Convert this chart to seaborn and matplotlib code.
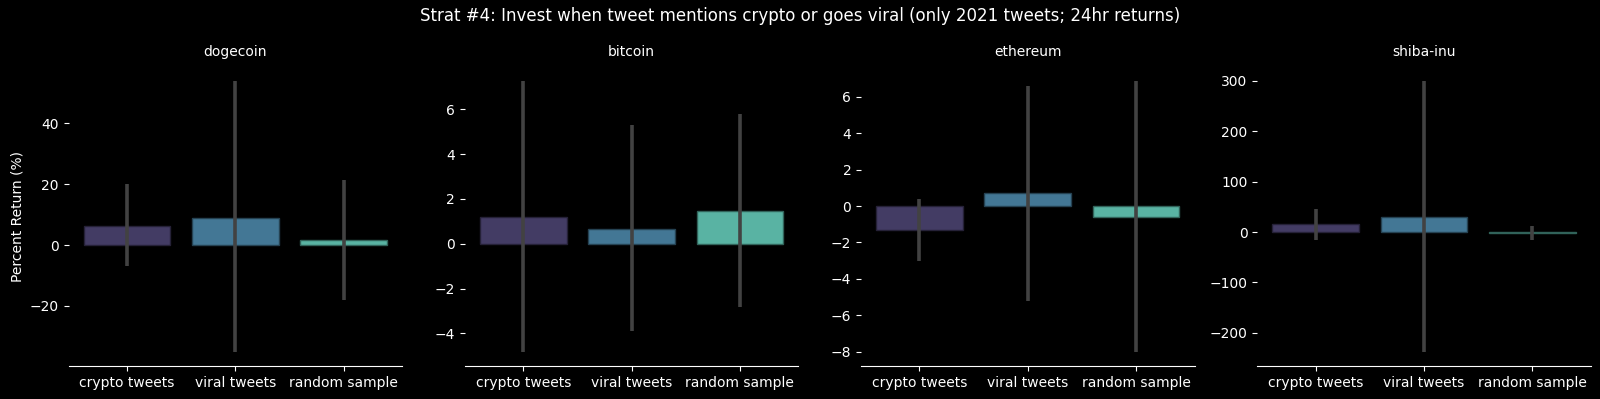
import matplotlib
matplotlib.use("Agg")
import matplotlib.pyplot as plt
import seaborn as sns
import pandas as pd
import numpy as np

coins = ["dogecoin", "bitcoin", "ethereum", "shiba-inu"]
groups = ["crypto tweets", "viral tweets", "random sample"]

mean_returns = {
    "dogecoin": [6.4, 8.9, 1.8],
    "bitcoin": [1.19, 0.68, 1.47],
    "ethereum": [-1.32, 0.70, -0.59],
    "shiba-inu": [15.2, 30.4, -1.5],
}
ci_low = {
    "dogecoin": [-7.0, -35.3, -18.2],
    "bitcoin": [-4.85, -3.91, -2.83],
    "ethereum": [-3.02, -5.19, -8.03],
    "shiba-inu": [-15.9, -238.6, -15.9],
}
ci_high = {
    "dogecoin": [20.2, 54.1, 21.3],
    "bitcoin": [7.28, 5.30, 5.79],
    "ethereum": [0.37, 6.57, 6.88],
    "shiba-inu": [44.9, 300.0, 11.9],
}

plt.style.use("dark_background")
palette = sns.color_palette("mako", 3)

fig, axes = plt.subplots(1, 4, figsize=(16, 3.99), dpi=100)
fig.subplots_adjust(left=0.0429, right=0.9942, top=0.832, bottom=0.0827, wspace=0.188)

for ax, coin in zip(axes, coins):
    df = pd.DataFrame({"group": groups, "ret": mean_returns[coin]})
    sns.barplot(data=df, x="group", y="ret", hue="group", palette=palette,
                errorbar=None, saturation=0.75, legend=False, ax=ax,
                edgecolor=None)
    for p, c in zip(ax.patches, palette):
        fc = np.array(sns.desaturate(c, 0.75))
        p.set_edgecolor(tuple(fc * 0.55))
        p.set_linewidth(1.0)
    xs = np.arange(len(groups))
    ax.vlines(xs, ci_low[coin], ci_high[coin], color="#424242", linewidth=2.6, zorder=3)
    ax.autoscale_view()
    ax.set_title(coin, fontsize=10, color="white", pad=8)
    ax.set_xlabel("")
    ax.set_ylabel("")
    sns.despine(ax=ax, left=True)
    ax.tick_params(colors="white", labelsize=10)
    ax.spines["bottom"].set_color("white")

axes[0].set_ylabel("Percent Return (%)", fontsize=10)
fig.suptitle("Strat #4: Invest when tweet mentions crypto or goes viral (only 2021 tweets; 24hr returns)",
             fontsize=12, y=0.982)
fig.savefig("out.png", dpi=100, facecolor="black")
